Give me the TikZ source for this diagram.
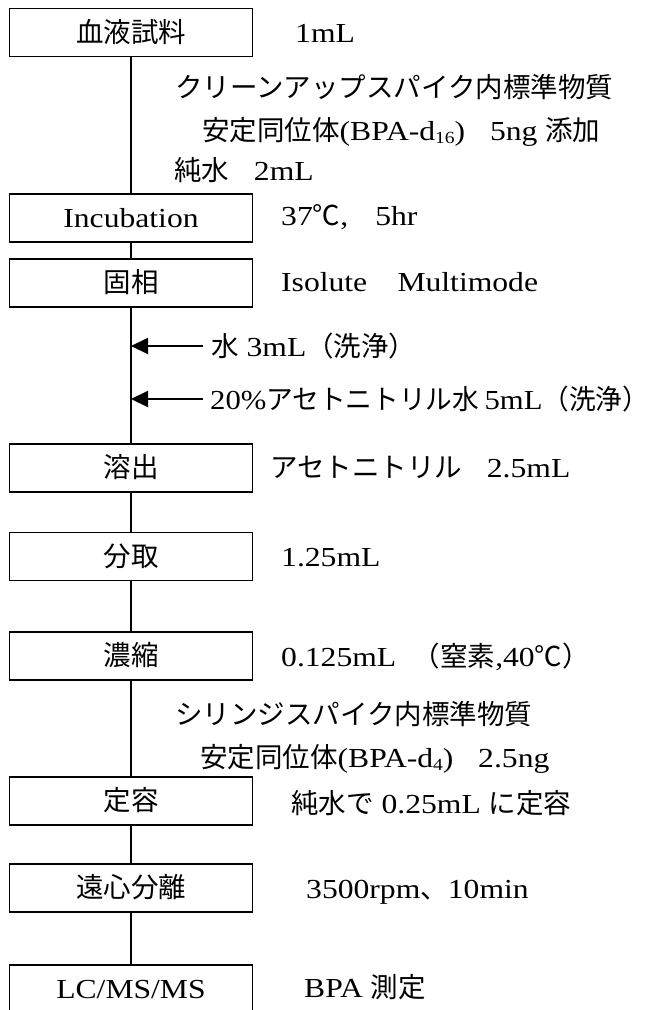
\documentclass[tikz,border=0pt]{standalone}
\usepackage{fontspec}
\setmainfont[FakeStretch=1.15]{Liberation Serif}
\newfontfamily\ja{Noto Sans CJK JP}
\usetikzlibrary{arrows.meta}
\newcommand{\J}[1]{{\ja #1}}
\newcommand{\fs}{\fontsize{27.5}{33}\selectfont}
\newcommand{\lowidx}[1]{\raisebox{-0.12em}{\fontsize{17}{17}\selectfont #1}}
\begin{document}
\begin{tikzpicture}[x=1pt,y=-1pt,
  stepbox/.style={draw, line width=1.8pt, minimum width=243pt, minimum height=48pt,
    inner sep=0pt, text height=19pt, text depth=0pt, font=\fs},
  lbl/.style={anchor=base west, inner sep=0pt, font=\fs},
  conn/.style={line width=1.5pt},
  arr/.style={line width=2pt, -{Triangle[length=17pt,width=16pt]}}]
\useasboundingbox (0,0) rectangle (661,1010);
\clip (0,0) rectangle (661,1010);
\fill[white] (0,0) rectangle (661,1010);

% boxes
\node[stepbox] (b1) at (131,32.5) {\J{血液試料}};
\node[stepbox] (b2) at (131,218) {Incubation};
\node[stepbox] (b3) at (131,283) {\J{固相}};
\node[stepbox] (b4) at (131,468) {\J{溶出}};
\node[stepbox] (b5) at (131,556.5) {\J{分取}};
\node[stepbox] (b6) at (131,656) {\J{濃縮}};
\node[stepbox] (b7) at (131,801) {\J{定容}};
\node[stepbox] (b8) at (131,888) {\J{遠心分離}};
\node[stepbox] (b9) at (131,989) {LC/MS/MS};

% connectors
\draw[conn] (b1) -- (b2);
\draw[conn] (b2) -- (b3);
\draw[conn] (b3) -- (b4);
\draw[conn] (b4) -- (b5);
\draw[conn] (b5) -- (b6);
\draw[conn] (b6) -- (b7);
\draw[conn] (b7) -- (b8);
\draw[conn] (b8) -- (b9);

% arrows
\coordinate (w1) at (203,346);
\coordinate (w2) at (203,399);
\draw[arr] (w1) -- (w1 -| b3.center);
\draw[arr] (w2) -- (w2 -| b3.center);

% labels
\node[lbl] (t1) at (295,42) {1mL};
\node[lbl] (t2) at (175,97) {\J{クリーンアップスパイク内標準物質}};
\node[lbl] (t3) at (202,140) {\J{安定同位体}(BPA-d\lowidx{16})\hspace{0.9em}5ng \J{添加}};
\node[lbl] (t4) at (174,180) {\J{純水}\hspace{0.9em}2mL};
\node[lbl] (t5) at (281,225) {37\J{℃}, \hspace{0.7em}5hr};
\node[lbl] (t6) at (281,291) {Isolute\hspace{1.1em}Multimode};
\node[lbl] (t7) at (211,356) {\J{水} 3mL\J{（洗浄）}};
\node[lbl] (t8) at (210,409) {\scalebox{0.97}[1]{20\%\J{アセトニトリル水}\hspace{0.2em}5mL\J{（洗浄）}}};
\node[lbl] (t9) at (270,477) {\J{アセトニトリル}\hspace{0.9em}2.5mL};
\node[lbl] (t10) at (281,566) {1.25mL};
\node[lbl] (t11) at (281,666) {0.125mL\hspace{0.6em}\J{（窒素}{,}40\J{℃）}};
\node[lbl] (t12) at (175,724) {\J{シリンジスパイク内標準物質}};
\node[lbl] (t13) at (200,767) {\J{安定同位体}(BPA-d\lowidx{4})\hspace{0.9em}2.5ng};
\node[lbl] (t14) at (291,813) {\J{純水で} 0.25mL \J{に定容}};
\node[lbl] (t15) at (306,898) {3500rpm\J{、}10min};
\node[lbl] (t16) at (304,997) {BPA \J{測定}};
\end{tikzpicture}
\end{document}
